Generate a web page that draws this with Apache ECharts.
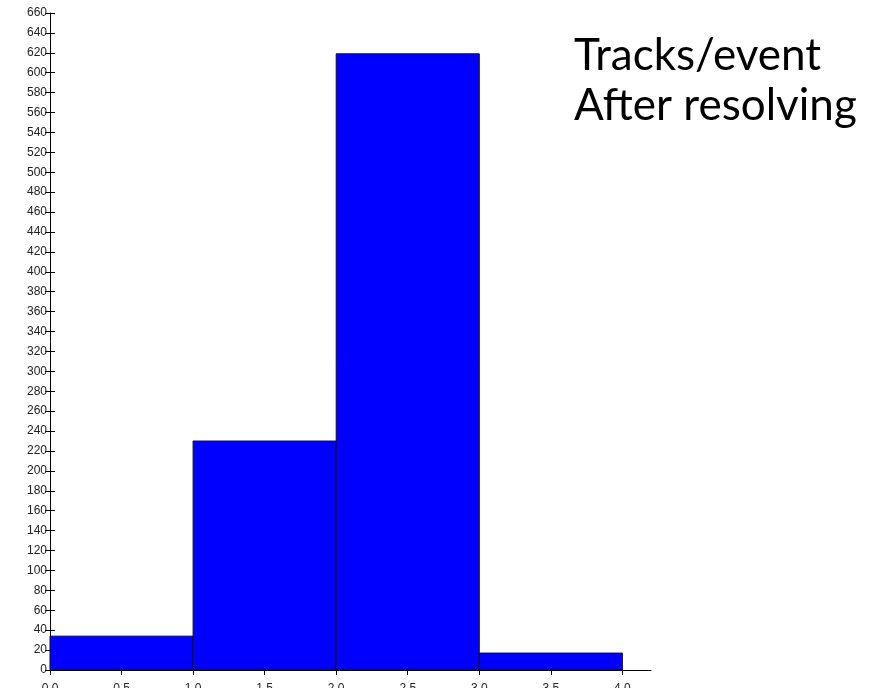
<!DOCTYPE html>
<html>
<head>
<meta charset="utf-8">
<script src="https://cdn.jsdelivr.net/npm/echarts@6/dist/echarts.min.js"></script>
<style>
  html, body { margin: 0; padding: 0; background: #fff; }
  #chart { width: 879px; height: 688px; }
</style>
</head>
<body>
<div id="chart"></div>
<script>
// Histogram bins: [lower edge, upper edge]
const binStarts = [0, 1, 2, 3];
const binEnds = [1, 2, 3, 4];
const counts = [34, 230, 619, 17];

const xTicks = [0, 0.5, 1, 1.5, 2, 2.5, 3, 3.5, 4];
const titleLines = ['Tracks/event', 'After resolving'];

const data = binStarts.map((s, i) => [s, binEnds[i], counts[i]]);

const chart = echarts.init(document.getElementById('chart'), null, { renderer: 'canvas' });

const labelFont = { fontFamily: 'Liberation Sans, Arial, sans-serif', fontSize: 12, color: '#222' };

chart.setOption({
  animation: false,
  grid: { left: 50, right: 228, top: 13, bottom: 18, containLabel: false, outerBoundsMode: 'none' },
  xAxis: {
    type: 'value', min: 0, max: 4.2,
    axisLine: { lineStyle: { color: '#000', width: 1 } },
    axisTick: { show: true, length: 5, customValues: xTicks, lineStyle: { color: '#000' } },
    axisLabel: { customValues: xTicks, margin: 13, formatter: v => v.toFixed(1), ...labelFont },
    splitLine: { show: false }
  },
  yAxis: [
    {
      type: 'value', min: 0, max: 660, interval: 20,
      axisLine: { show: true, lineStyle: { color: '#000', width: 1 } },
      axisTick: { show: true, length: 5, lineStyle: { color: '#000' } },
      axisLabel: { margin: 3, ...labelFont },
      splitLine: { show: false }
    },
    {
      // inner half of the crossing tick marks
      type: 'value', min: 0, max: 660, interval: 20, position: 'left', offset: 0,
      axisLine: { show: false },
      axisTick: { show: true, inside: true, length: 5, lineStyle: { color: '#000' } },
      axisLabel: { show: false },
      splitLine: { show: false }
    }
  ],
  graphic: [
    {
      type: 'text', left: 574, top: 31, z: 10,
      style: {
        text: titleLines.join('\n'),
        font: '44px Lato, "Open Sans", sans-serif',
        lineHeight: 50,
        fill: '#000'
      }
    }
  ],
  series: [{
    type: 'custom',
    data: data,
    encode: { x: [0, 1], y: 2 },
    renderItem: function (params, api) {
      const p0 = api.coord([api.value(0), 0]);
      const p1 = api.coord([api.value(1), api.value(2)]);
      return {
        type: 'rect',
        shape: { x: p0[0], y: p1[1], width: p1[0] - p0[0], height: p0[1] - p1[1] },
        style: { fill: '#0000ff', stroke: '#111', lineWidth: 1 }
      };
    }
  }]
});
</script>
</body>
</html>
